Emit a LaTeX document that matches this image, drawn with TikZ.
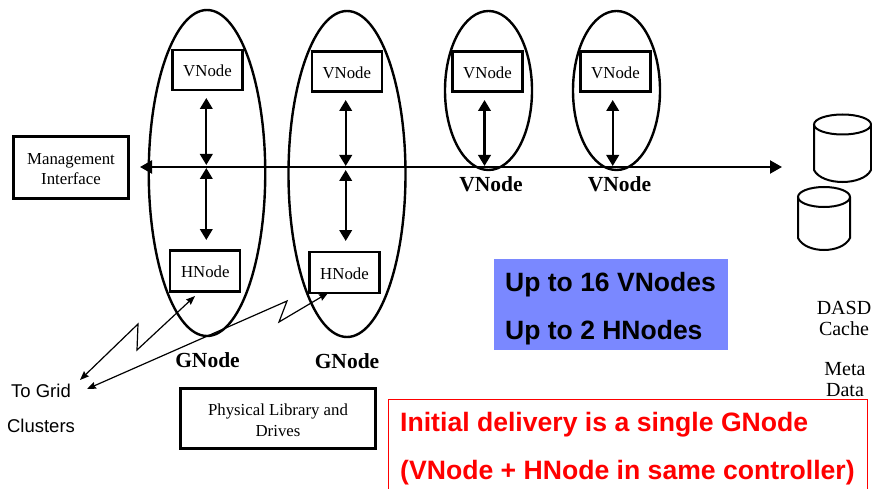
\documentclass[tikz,border=0pt]{standalone}
\usepackage{fontspec}
\setmainfont{Liberation Serif}
\setsansfont{Liberation Sans}
\usetikzlibrary{arrows.meta,shapes.geometric}
\definecolor{panelblue}{RGB}{122,136,255}
\newcommand{\boxlabel}[1]{\raisebox{-6.7pt}[0pt][0pt]{#1}}
\tikzset{x=1pt,y=-1pt,
 ell/.style={draw,ellipse,line width=2.4pt,inner sep=0pt,minimum width=#1},
 boxn/.style={draw,line width=2.1pt,font=\fontsize{16.8}{20}\selectfont,align=center,inner sep=0pt},
 boxtext/.style={font=\fontsize{16.8}{20}\selectfont,align=center,inner sep=0pt},
 blab/.style={font=\bfseries\fontsize{21.5}{24}\selectfont,inner sep=0pt},
 dbl/.style={line width=2.3pt,{Triangle[length=11pt,width=12.5pt]}-{Triangle[length=11pt,width=12.5pt]}},
 thinarrow/.style={line width=1.2pt,{Stealth[length=9pt,width=7pt,inset=1pt]}-{Stealth[length=9pt,width=7pt,inset=1pt]}},
 slab/.style={font=\sffamily\fontsize{18.5}{20}\selectfont,inner sep=0pt},
 bluetext/.style={font=\sffamily\bfseries\fontsize{26.5}{30}\selectfont,inner sep=0pt,anchor=west},
 redt/.style={font=\sffamily\bfseries\fontsize{26.6}{30}\selectfont,inner sep=0pt,anchor=west,text=red},
 seriflab/.style={font=\fontsize{20}{21}\selectfont,align=center,inner sep=0pt}}
\begin{document}
\begin{tikzpicture}
\useasboundingbox (0,0) rectangle (872,489);
\clip (0,0) rectangle (872,489);
% ellipses
\node[ell=116.5pt,minimum height=326pt] (e1) at (207,173) {};
\node[ell=117pt,minimum height=326pt] (e2) at (347,174) {};
\node[ell=87pt,minimum height=159pt] (e3) at (488.5,90.5) {};
\node[ell=87pt,minimum height=159pt] (e4) at (616.5,90.5) {};
% boxes
\node[boxn,minimum width=70pt,minimum height=40pt] (v1) at (207.5,70.3) {\boxlabel{VNode}};
\node[boxn,minimum width=70pt,minimum height=40pt] (v2) at (346.8,71.5) {\boxlabel{VNode}};
\node[boxn,minimum width=70pt,minimum height=40pt] (v3) at (487.5,71.5) {\boxlabel{VNode}};
\node[boxn,minimum width=70pt,minimum height=40pt] (v4) at (615.5,71.5) {\boxlabel{VNode}};
\node[boxn,minimum width=70pt,minimum height=41pt] (h1) at (205.3,271) {\boxlabel{HNode}};
\node[boxn,minimum width=70pt,minimum height=41pt] (h2) at (344.5,272.5) {\boxlabel{HNode}};
\node[boxn,minimum width=115pt,minimum height=62pt] (mg) at (71,167.5) {};
\node[boxtext] (mgt) at (71,169.5) {Management\\Interface};
\node[boxn,minimum width=195pt,minimum height=60pt] (pl) at (278,418.5) {};
\node[boxtext] (plt) at (278,420.5) {Physical Library and\\[1pt]Drives};
% bus
\coordinate (busl) at (140,167);
\coordinate (busr) at (782,167);
\draw[line width=2.2pt,{Triangle[length=12pt,width=13pt]}-{Triangle[length=12pt,width=13pt]}] (busl) -- (busr);
% vertical arrows
\coordinate (a1) at (206.3,98);
\coordinate (b1) at (206.3,165);
\coordinate (c1) at (206.3,168);
\coordinate (d1) at (206.3,240);
\coordinate (a2) at (345.7,100);
\coordinate (b2) at (345.7,166);
\coordinate (c2) at (345.7,170);
\coordinate (d2) at (345.7,241);
\coordinate (a3) at (484.5,100);
\coordinate (b3) at (484.5,166);
\coordinate (a4) at (612.7,100);
\coordinate (b4) at (612.7,166);
\draw[dbl] (a1) -- (b1);
\draw[dbl] (a2) -- (b2);
\draw[dbl] (c1) -- (d1);
\draw[dbl] (c2) -- (d2);
\draw[dbl] (a3) -- (b3);
\draw[dbl] (a4) -- (b4);
% labels
\node[blab] (lv3) at (491,184.5) {VNode};
\node[blab] (lv4) at (619.5,184.5) {VNode};
\node[blab] (lg1) at (207.5,360) {GNode};
\node[blab] (lg2) at (347,361) {GNode};
% grid
\node[slab] (tg) at (41,391) {To Grid};
\node[slab] (cl) at (41,425.5) {Clusters};
\coordinate (g1) at (80,380);
\coordinate (g2) at (87,389);
\draw[thinarrow] (g1) -- (138,324) -- (137,350) -- (195,296);
\draw[thinarrow] (g2) -- (287,301) -- (279,322) -- (328,293);
% cylinders
\foreach \x/\ya/\yb/\rx in {842.5/124.5/170/28.5,824/197/238/26}{
 \draw[line width=2pt,fill=white] (\x-\rx,\ya) -- (\x-\rx,\yb)
   .. controls (\x-\rx+8,\yb+16) and (\x+\rx-8,\yb+16) .. (\x+\rx,\yb) -- (\x+\rx,\ya);
 \draw[line width=2pt] (\x,\ya) ellipse [x radius=\rx, y radius=10];
}
\node[seriflab] (dasd) at (844,318) {DASD\\Cache};
\node[seriflab] (meta) at (845,380) {Meta\\Data};
% blue
\node[fill=panelblue,minimum width=234pt,minimum height=91pt,inner sep=0pt] (bb) at (611,304.5) {};
\node[bluetext] (b1t) at (505,284.5) {Up to 16 VNodes};
\node[bluetext] (b2t) at (505,332.5) {Up to 2 HNodes};
% red
\node[draw=red,line width=.9pt,fill=white,minimum width=479pt,minimum height=120pt,anchor=north west,inner sep=0pt] (rb) at (388,399) {};
\node[redt] (r1) at (400,424.5) {Initial delivery is a single GNode};
\node[redt] (r2) at (400,472.5) {(VNode + HNode in same controller)};
\end{tikzpicture}
\end{document}
